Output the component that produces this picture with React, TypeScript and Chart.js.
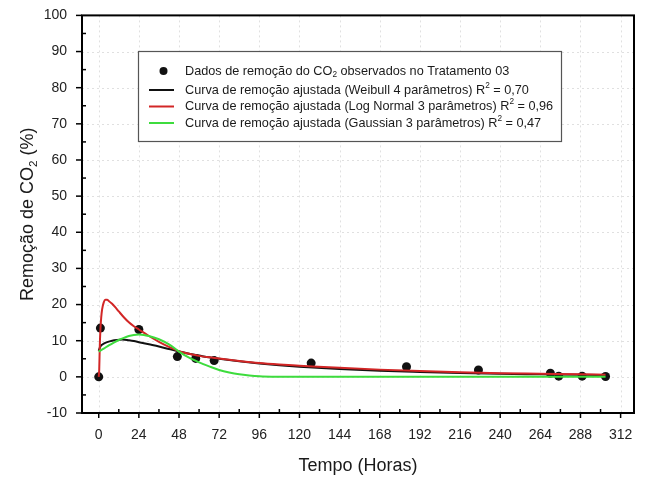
import React, { useEffect, useRef } from 'react';
import { Chart, registerables } from 'chart.js';

Chart.register(...registerables);

const FONT = '"Liberation Sans", Arial, Helvetica, sans-serif';

// Axis ticks
const xTickValues = [0, 24, 48, 72, 96, 120, 144, 168, 192, 216, 240, 264, 288, 312];
const yTickValues = [-10, 0, 10, 20, 30, 40, 50, 60, 70, 80, 90, 100];
const xAxisMin = -10;
const xAxisMax = 320;
const yAxisMin = -10;
const yAxisMax = 100;

// Observed data (Tratamento 03)
const observedHours = [0, 1, 24, 47, 58, 69, 127, 184, 227, 270, 275, 289, 303];
const observedRemoval = [0, 13.5, 13.1, 5.6, 5.1, 4.5, 3.8, 2.8, 1.9, 1.0, 0.2, 0.2, 0.1];

// Weibull 4 parameters fitted curve
const weibullHours = [0, 0.5, 1, 2, 3, 5, 8, 11, 14, 18, 21, 24, 30, 36, 42, 48, 54, 60, 66, 72, 84, 96, 108, 120, 144, 168, 192, 216, 240, 264, 288, 303];
const weibullValues = [7.2, 7.9, 8.4, 8.9, 9.2, 9.6, 10.0, 10.2, 10.3, 10.1, 9.9, 9.6, 9.0, 8.4, 7.7, 7.0, 6.4, 5.9, 5.4, 5.0, 4.3, 3.7, 3.2, 2.8, 2.2, 1.7, 1.35, 1.05, 0.85, 0.7, 0.55, 0.5];

// Log Normal 3 parameters fitted curve
const logNormalHours = [0, 0.3, 0.6, 1, 1.5, 2, 3, 4, 5, 6, 8, 10, 12, 15, 18, 21, 24, 30, 36, 42, 48, 54, 60, 66, 72, 84, 96, 108, 120, 144, 168, 192, 216, 240, 264, 288, 303];
const logNormalValues = [0, 2, 8, 13, 16.5, 18.6, 20.6, 21.3, 21.3, 21.0, 20.2, 19.2, 18.1, 16.5, 15.1, 14.0, 13.1, 11.3, 9.7, 8.3, 7.1, 6.4, 5.8, 5.4, 5.1, 4.4, 3.8, 3.4, 3.1, 2.5, 2.0, 1.6, 1.25, 1.0, 0.85, 0.7, 0.6];

// Gaussian 3 parameters fitted curve
const gaussianHours = [0, 3, 6, 9, 12, 15, 18, 21, 24, 27, 30, 33, 36, 42, 48, 54, 60, 66, 72, 78, 84, 90, 96, 108, 120, 150, 200, 250, 303];
const gaussianValues = [7.0, 7.8, 8.7, 9.5, 10.2, 10.8, 11.3, 11.6, 11.7, 11.6, 11.3, 10.9, 10.4, 9.0, 7.0, 5.3, 4.0, 2.9, 1.9, 1.2, 0.7, 0.4, 0.2, 0.05, 0, 0, 0, 0, 0];

type Part = { text: string; kind?: 'sub' | 'sup' };

const yTitle: Part[] = [{ text: 'Remoção de CO' }, { text: '2', kind: 'sub' }, { text: ' (%)' }];
const xTitle: Part[] = [{ text: 'Tempo (Horas)' }];

const legendRows: { parts: Part[]; symbol: 'dot' | 'line'; color: string }[] = [
  {
    parts: [{ text: 'Dados de remoção do CO' }, { text: '2', kind: 'sub' }, { text: ' observados no Tratamento 03' }],
    symbol: 'dot',
    color: '#111111',
  },
  {
    parts: [{ text: 'Curva de remoção ajustada (Weibull 4 parâmetros) R' }, { text: '2', kind: 'sup' }, { text: ' = 0,70' }],
    symbol: 'line',
    color: '#111111',
  },
  {
    parts: [{ text: 'Curva de remoção ajustada (Log Normal 3 parâmetros) R' }, { text: '2', kind: 'sup' }, { text: ' = 0,96' }],
    symbol: 'line',
    color: '#d22626',
  },
  {
    parts: [{ text: 'Curva de remoção ajustada (Gaussian 3 parâmetros) R' }, { text: '2', kind: 'sup' }, { text: ' = 0,47' }],
    symbol: 'line',
    color: '#3ddc3d',
  },
];

function fontFor(p: Part, size: number) {
  const s = p.kind ? size * 0.65 : size;
  return `${s}px ${FONT}`;
}

function drawRich(ctx: CanvasRenderingContext2D, parts: Part[], x: number, y: number, size: number, align: 'left' | 'center') {
  const widths = parts.map((p) => {
    ctx.font = fontFor(p, size);
    return ctx.measureText(p.text).width;
  });
  const total = widths.reduce((a, b) => a + b, 0);
  let cx = align === 'center' ? x - total / 2 : x;
  ctx.textAlign = 'left';
  ctx.textBaseline = 'middle';
  parts.forEach((p, i) => {
    ctx.font = fontFor(p, size);
    const dy = p.kind === 'sub' ? size * 0.32 : p.kind === 'sup' ? -size * 0.35 : 0;
    ctx.fillText(p.text, cx, y + dy);
    cx += widths[i];
  });
}

const decorPlugin = {
  id: 'decor',
  beforeDatasetsDraw(chart: any) {
    const { ctx, chartArea: a, scales } = chart;
    const x = scales.x;
    const y = scales.y;
    ctx.save();
    ctx.strokeStyle = 'rgba(0,0,0,0.12)';
    ctx.lineWidth = 1;
    ctx.setLineDash([2, 3]);
    xTickValues.forEach((v) => {
      const px = Math.round(x.getPixelForValue(v)) + 0.5;
      ctx.beginPath();
      ctx.moveTo(px, a.top);
      ctx.lineTo(px, a.bottom);
      ctx.stroke();
    });
    yTickValues.forEach((v) => {
      const py = Math.round(y.getPixelForValue(v)) + 0.5;
      ctx.beginPath();
      ctx.moveTo(a.left, py);
      ctx.lineTo(a.right, py);
      ctx.stroke();
    });
    ctx.restore();
  },
  afterDraw(chart: any) {
    const { ctx, chartArea: a, scales } = chart;
    const x = scales.x;
    const y = scales.y;
    ctx.save();
    ctx.setLineDash([]);
    ctx.strokeStyle = '#000';
    ctx.lineWidth = 1.5;
    // major ticks outward, minor ticks inward
    xTickValues.forEach((v, i) => {
      const px = x.getPixelForValue(v);
      ctx.beginPath();
      ctx.moveTo(px, a.bottom);
      ctx.lineTo(px, a.bottom + 5);
      ctx.stroke();
      if (i < xTickValues.length - 1) {
        const mx = x.getPixelForValue((v + xTickValues[i + 1]) / 2);
        ctx.beginPath();
        ctx.moveTo(mx, a.bottom);
        ctx.lineTo(mx, a.bottom - 4);
        ctx.stroke();
      }
    });
    yTickValues.forEach((v, i) => {
      const py = y.getPixelForValue(v);
      ctx.beginPath();
      ctx.moveTo(a.left - 6, py);
      ctx.lineTo(a.left, py);
      ctx.stroke();
      if (i < yTickValues.length - 1) {
        const my = y.getPixelForValue((v + yTickValues[i + 1]) / 2);
        ctx.beginPath();
        ctx.moveTo(a.left, my);
        ctx.lineTo(a.left + 4, my);
        ctx.stroke();
      }
    });
    // frame
    ctx.lineWidth = 2;
    ctx.strokeRect(a.left, a.top, a.right - a.left, a.bottom - a.top);

    // axis titles
    ctx.fillStyle = '#1a1a1a';
    drawRich(ctx, xTitle, (a.left + a.right) / 2, 466, 18, 'center');
    ctx.save();
    ctx.translate(28, (a.top + a.bottom) / 2);
    ctx.rotate(-Math.PI / 2);
    drawRich(ctx, yTitle, 0, 0, 18, 'center');
    ctx.restore();

    // legend box
    const bx = 138.5, by = 51.5, bw = 423, bh = 90;
    ctx.fillStyle = '#ffffff';
    ctx.fillRect(bx, by, bw, bh);
    ctx.strokeStyle = '#555';
    ctx.lineWidth = 1.2;
    ctx.strokeRect(bx, by, bw, bh);
    const rowY = [71, 90, 106.5, 123];
    legendRows.forEach((row, i) => {
      const ry = rowY[i];
      if (row.symbol === 'dot') {
        ctx.fillStyle = row.color;
        ctx.beginPath();
        ctx.arc(163.5, ry, 4, 0, Math.PI * 2);
        ctx.fill();
      } else {
        ctx.strokeStyle = row.color;
        ctx.lineWidth = 2;
        ctx.beginPath();
        ctx.moveTo(149, ry);
        ctx.lineTo(174, ry);
        ctx.stroke();
      }
      ctx.fillStyle = '#1a1a1a';
      drawRich(ctx, row.parts, 185, ry, 12.7, 'left');
    });
    ctx.restore();
  },
};

function toPoints(xs: number[], ys: number[]) {
  return xs.map((h, i) => ({ x: h, y: ys[i] }));
}

export default function App() {
  const canvasRef = useRef<HTMLCanvasElement | null>(null);

  useEffect(() => {
    if (!canvasRef.current) return;
    const tickFont = { family: FONT, size: 14 };
    const chart = new Chart(canvasRef.current, {
      type: 'scatter',
      data: {
        datasets: [
          {
            label: 'Dados observados',
            data: toPoints(observedHours, observedRemoval),
            showLine: false,
            pointRadius: 4.5,
            pointBackgroundColor: '#111111',
            pointBorderColor: '#111111',
            pointBorderWidth: 0,
            order: 3,
          },
          {
            label: 'Weibull',
            data: toPoints(weibullHours, weibullValues),
            showLine: true,
            borderColor: '#111111',
            borderWidth: 2,
            pointRadius: 0,
            cubicInterpolationMode: 'monotone',
            order: 2,
          },
          {
            label: 'Log Normal',
            data: toPoints(logNormalHours, logNormalValues),
            showLine: true,
            borderColor: '#d22626',
            borderWidth: 2,
            pointRadius: 0,
            cubicInterpolationMode: 'monotone',
            order: 1,
          },
          {
            label: 'Gaussian',
            data: toPoints(gaussianHours, gaussianValues),
            showLine: true,
            borderColor: '#3ddc3d',
            borderWidth: 2,
            pointRadius: 0,
            cubicInterpolationMode: 'monotone',
            order: 0,
          },
        ],
      } as any,
      options: {
        animation: false,
        responsive: false,
        devicePixelRatio: 1,
        layout: { padding: { top: 15, right: 13, left: 0, bottom: 0 } },
        plugins: {
          legend: { display: false },
          tooltip: { enabled: false },
        },
        scales: {
          x: {
            type: 'linear',
            min: xAxisMin,
            max: xAxisMax,
            afterBuildTicks: (s: any) => {
              s.ticks = xTickValues.map((v) => ({ value: v }));
            },
            afterFit: (s: any) => {
              s.height = 66;
            },
            grid: { display: false },
            border: { display: false },
            ticks: {
              font: tickFont,
              color: '#222',
              padding: 6,
              maxRotation: 0,
              autoSkip: false,
              callback: (v: any) => String(v),
            },
          },
          y: {
            type: 'linear',
            min: yAxisMin,
            max: yAxisMax,
            afterBuildTicks: (s: any) => {
              s.ticks = yTickValues.map((v) => ({ value: v }));
            },
            afterFit: (s: any) => {
              s.width = 82;
            },
            grid: { display: false },
            border: { display: false },
            ticks: {
              font: tickFont,
              color: '#222',
              padding: 7,
              autoSkip: false,
              callback: (v: any) => String(v),
            },
          },
        },
      } as any,
      plugins: [decorPlugin],
    });
    return () => chart.destroy();
  }, []);

  return (
    <div style={{ position: 'absolute', left: 0, top: 0, width: 647, height: 479, background: '#fff' }}>
      <canvas ref={canvasRef} width={647} height={479} style={{ width: 647, height: 479, display: 'block' }} />
    </div>
  );
}
